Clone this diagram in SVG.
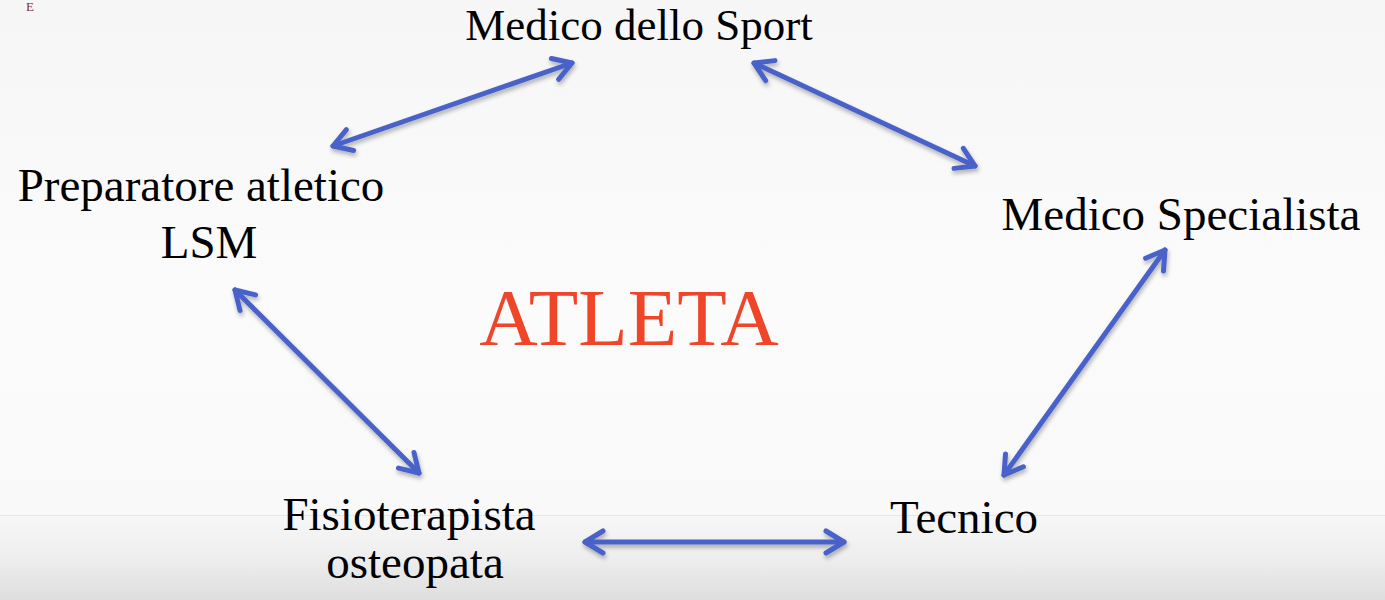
<svg xmlns="http://www.w3.org/2000/svg" width="1385" height="600" viewBox="0 0 1385 600">
  <defs>
    <linearGradient id="bg" x1="0" y1="0" x2="0" y2="1">
      <stop offset="0" stop-color="#f6f6f6"/>
      <stop offset="0.5" stop-color="#fbfbfb"/>
      <stop offset="1" stop-color="#f8f8f8"/>
    </linearGradient>
    <linearGradient id="band" x1="0" y1="0" x2="0" y2="1">
      <stop offset="0" stop-color="#f7f7f7"/>
      <stop offset="0.5" stop-color="#eeeeee"/>
      <stop offset="1" stop-color="#dedede"/>
    </linearGradient>
    <filter id="sh" x="-10%" y="-10%" width="120%" height="130%">
      <feDropShadow dx="1" dy="3" stdDeviation="2" flood-color="#000" flood-opacity="0.3"/>
    </filter>
    <marker id="ah" markerUnits="userSpaceOnUse" viewBox="-26 -16 30 32" refX="0" refY="0" markerWidth="30" markerHeight="32" orient="auto-start-reverse">
      <path d="M-18,-11 L0,0 L-18,11" fill="none" stroke="#4a62c9" stroke-width="5" stroke-linecap="round" stroke-linejoin="round"/>
    </marker>
  </defs>
  <style>
    text { font-family: "Liberation Serif", serif; }
    .lbl { font-size: 47px; fill: #000000; text-anchor: middle; }
    .main { font-size: 81px; fill: #ef4529; text-anchor: middle; }
    .conn { fill: none; stroke: #4a62c9; stroke-width: 5; stroke-linecap: round; marker-start: url(#ah); marker-end: url(#ah); }
  </style>

  <rect x="0" y="0" width="1385" height="600" fill="url(#bg)"/>
  <rect x="0" y="515" width="1385" height="85" fill="url(#band)"/>
  <line x1="0" y1="515.5" x2="1385" y2="515.5" stroke="#e6e6e6" stroke-width="1"/>

  <text x="30" y="11" font-family="Liberation Serif" font-size="13" fill="#8a2b3b" text-anchor="middle">E</text>

  <g id="connectors" filter="url(#sh)">
    <path class="conn" d="M572,63 L333,146"/>
    <path class="conn" d="M754,63 L975,166"/>
    <path class="conn" d="M1165,250 L1004,475"/>
    <path class="conn" d="M235,290 L419,473"/>
    <path class="conn" d="M585,542 L844,542"/>
  </g>

  <g id="node-medico-sport">
    <text class="lbl" font-family="Liberation Serif" x="639" y="40" style="font-size:45px">Medico dello Sport</text>
  </g>
  <g id="node-preparatore">
    <text class="lbl" font-family="Liberation Serif" x="201" y="201">Preparatore atletico</text>
    <text class="lbl" font-family="Liberation Serif" x="209" y="258">LSM</text>
  </g>
  <g id="node-medico-specialista">
    <text class="lbl" font-family="Liberation Serif" x="1181" y="230">Medico Specialista</text>
  </g>
  <g id="node-atleta">
    <text class="main" font-family="Liberation Serif" x="629" y="345">ATLETA</text>
  </g>
  <g id="node-fisioterapista">
    <text class="lbl" font-family="Liberation Serif" x="409" y="530">Fisioterapista</text>
    <text class="lbl" font-family="Liberation Serif" x="415" y="578">osteopata</text>
  </g>
  <g id="node-tecnico">
    <text class="lbl" font-family="Liberation Serif" x="964" y="533">Tecnico</text>
  </g>
</svg>
